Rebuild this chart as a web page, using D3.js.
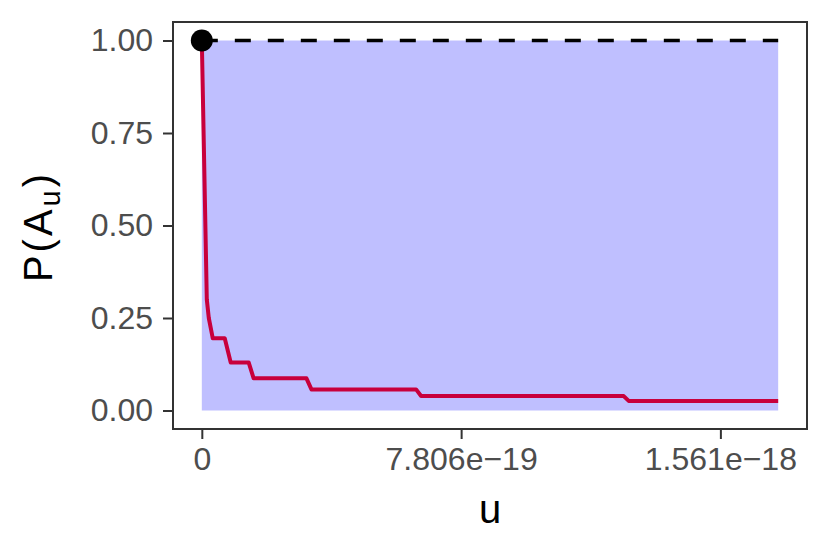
<!DOCTYPE html>
<html>
<head>
<meta charset="utf-8">
<script src="https://cdn.jsdelivr.net/npm/d3@7"></script>
<style>
  body { margin: 0; background: #fff; }
  svg { font-family: "Liberation Sans", Arial, sans-serif; }
</style>
</head>
<body>
<svg id="chart" width="830" height="554"></svg>
<script>
// values (u in units of 1e-18)
var uVals = [0, 0.015, 0.021, 0.033, 0.069, 0.087, 0.141, 0.156, 0.315, 0.330, 0.645, 0.660, 1.270, 1.285, 1.735];
var pVals = [1.0, 0.30, 0.25, 0.195, 0.195, 0.13, 0.13, 0.087, 0.087, 0.057, 0.057, 0.039, 0.039, 0.026, 0.026];
var xTicks = [0, 0.7806, 1.561];
var xTickLabels = ["0", "7.806e\u221219", "1.561e\u221218"];
var yTicks = [0, 0.25, 0.5, 0.75, 1];
var yTickLabels = ["0.00", "0.25", "0.50", "0.75", "1.00"];

var data = uVals.map(function(u, i){ return {u: u, p: pVals[i]}; });

var margin = {left: 173, right: 23, top: 22, bottom: 125};
var W = 830, H = 554;
var svg = d3.select("#chart");

var uMax = d3.max(uVals);
var x = d3.scaleLinear()
  .domain([-0.05 * uMax, uMax * 1.05])
  .range([margin.left, W - margin.right]);
var y = d3.scaleLinear()
  .domain([-0.05, 1.05])
  .range([H - margin.bottom, margin.top]);

// ribbon
svg.append("path")
  .datum(data)
  .attr("fill", "#bfbfff")
  .attr("d", d3.area()
    .x(function(d){ return x(d.u); })
    .y0(y(0))
    .y1(y(1)));

// dashed line at 1
svg.append("line")
  .attr("x1", x(0)).attr("x2", x(uMax))
  .attr("y1", y(1)).attr("y2", y(1))
  .attr("stroke", "#000")
  .attr("stroke-width", 3.5)
  .attr("stroke-dasharray", "16,17");

// curve
svg.append("path")
  .datum(data)
  .attr("fill", "none")
  .attr("stroke", "#c8003c")
  .attr("stroke-width", 4)
  .attr("stroke-linejoin", "round")
  .attr("d", d3.line()
    .x(function(d){ return x(d.u); })
    .y(function(d){ return y(d.p); }));

// start point
svg.append("circle")
  .attr("cx", x(0)).attr("cy", y(1)).attr("r", 11)
  .attr("fill", "#000");

// panel border
svg.append("rect")
  .attr("x", margin.left).attr("y", margin.top)
  .attr("width", W - margin.left - margin.right)
  .attr("height", H - margin.top - margin.bottom)
  .attr("fill", "none")
  .attr("stroke", "#333")
  .attr("stroke-width", 2);

// axes
var xAxis = svg.append("g")
  .attr("transform", "translate(0," + (H - margin.bottom) + ")")
  .call(d3.axisBottom(x).tickValues(xTicks)
    .tickFormat(function(d, i){ return xTickLabels[i]; })
    .tickSizeOuter(0).tickSize(10).tickPadding(8));
var yAxis = svg.append("g")
  .attr("transform", "translate(" + margin.left + ",0)")
  .call(d3.axisLeft(y).tickValues(yTicks)
    .tickFormat(function(d, i){ return yTickLabels[i]; })
    .tickSizeOuter(0).tickSize(10).tickPadding(10));

[xAxis, yAxis].forEach(function(a){
  a.select(".domain").remove();
  a.selectAll(".tick line").attr("stroke", "#333").attr("stroke-width", 2);
  a.selectAll(".tick text")
    .attr("fill", "#4d4d4d")
    .style("font-size", "32px")
    .style("font-family", "'Liberation Sans', Arial, sans-serif");
});

// axis titles
svg.append("text")
  .attr("x", x(0) + (x(uMax) - x(0)) / 2)
  .attr("y", 523)
  .attr("text-anchor", "middle")
  .style("font-size", "40px")
  .text("u");

var yt = svg.append("text")
  .attr("transform", "translate(52," + ((margin.top + H - margin.bottom) / 2 + 1) + ") rotate(-90)")
  .attr("text-anchor", "middle")
  .style("font-size", "40px")
  .style("letter-spacing", "3px");
yt.append("tspan").text("P(A");
yt.append("tspan").attr("dy", 8).style("font-size", "29px").text("u");
yt.append("tspan").attr("dy", -8).text(")");
</script>
</body>
</html>
